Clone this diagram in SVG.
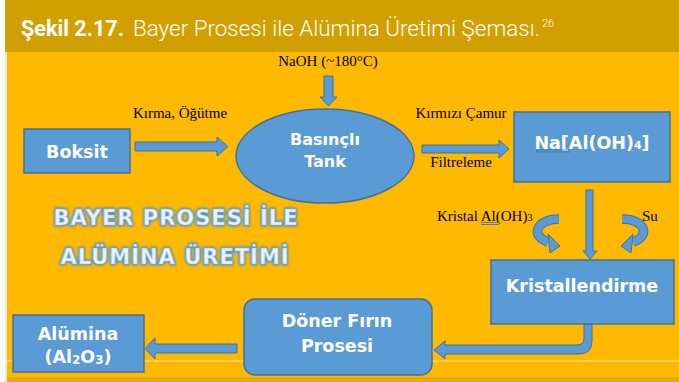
<svg xmlns="http://www.w3.org/2000/svg" width="679" height="382" viewBox="0 0 679 382">
<style>
.box{fill:#5b9bd5;stroke:#41719c;stroke-width:1.5}
.arr{fill:#5b9bd5;stroke:#41719c;stroke-width:1;stroke-linejoin:miter}
.bt{font-family:"DejaVu Sans",Verdana,sans-serif;font-weight:bold;fill:#ffffff;text-anchor:middle}
.lbl{font-family:"Liberation Serif","Times New Roman",serif;font-size:15px;fill:#000000}
.spell{stroke:#4472c4;stroke-width:0.9;fill:none}
.big{font-family:"DejaVu Sans",Verdana,sans-serif;font-weight:bold;font-size:21px;letter-spacing:1px;text-anchor:middle}
.curveo{fill:none;stroke:#41719c;stroke-width:9.5}
.curvei{fill:none;stroke:#5b9bd5;stroke-width:7.5}
</style>
<defs>
<filter id="glow" x="-10%" y="-50%" width="120%" height="200%">
<feGaussianBlur stdDeviation="1"/>
</filter>
</defs>
<rect x="0" y="0" width="679" height="382" fill="#ffffff"/>
<rect x="5" y="52" width="674" height="330" fill="#f3e9cf"/>
<rect x="7" y="52" width="672" height="325" fill="#ffb900"/>
<rect x="7" y="377" width="672" height="5" fill="#e6aa00"/>
<line x1="7" y1="361" x2="679" y2="361" stroke="#ffe7a8" stroke-width="1"/>
<g id="header">
<rect x="5" y="0" width="674" height="52" fill="#d29f00"/>
<text x="21" y="36" font-family="Roboto,'Open Sans',sans-serif" font-size="22" font-weight="bold" fill="#ffffff" textLength="103" lengthAdjust="spacingAndGlyphs">Şekil 2.17.</text>
<text x="133" y="36" font-family="Roboto,'Open Sans',sans-serif" font-size="22" font-weight="300" fill="#ffffff" textLength="407" lengthAdjust="spacingAndGlyphs">Bayer Prosesi ile Alümina Üretimi Şeması.</text>
<text x="542" y="27" font-family="Roboto,'Open Sans',sans-serif" font-size="11" font-weight="300" fill="#ffffff">26</text>
</g>
<g id="title">
<g filter="url(#glow)" fill="none" stroke="#4a8fd0" stroke-width="3" stroke-linejoin="round">
<text class="big" x="176" y="225">BAYER PROSESİ İLE</text>
<text class="big" x="175" y="264">ALÜMİNA ÜRETİMİ</text>
</g>
<g fill="#eaf2fb" stroke="#9cc2e8" stroke-width="0.6">
<text class="big" x="176" y="225">BAYER PROSESİ İLE</text>
<text class="big" x="175" y="264">ALÜMİNA ÜRETİMİ</text>
</g>
</g>
<g id="connectors">
<polygon class="arr" points="135,142 217,142 217,137 228,146.5 217,156 217,151 135,151"/>
<polygon class="arr" points="324,76 333,76 333,97 337,97 328.5,106 320,97 324,97"/>
<polygon class="arr" points="422,145 499,145 499,140 509,149 499,158 499,153 422,153"/>
<polygon class="arr" points="586,190 593,190 593,251 597,251 590,259 583,251 586,251"/>
<path class="arr" d="M584,324 L592,324 L592,341 Q592,354 579,354 L445,354 L445,359 L434,350 L445,341 L445,345 L577,345 Q584,345 584,338 Z"/>
<polygon class="arr" points="237,344 155,344 155,338 145,348.5 155,359 155,353 237,353"/>
<path class="curveo" d="M559,219 C536,219 530,236 548,242"/>
<path class="curvei" d="M559,219 C536,219 530,236 548,242"/>
<polygon class="arr" points="548,234 560,246 550,253"/>
<path class="curveo" d="M622,219 C645,219 651,236 633,242"/>
<path class="curvei" d="M622,219 C645,219 651,236 633,242"/>
<polygon class="arr" points="633,234 621,246 631,253"/>
</g>
<g id="labels">
<text class="lbl" x="180" y="118" text-anchor="middle">Kırma, Öğütme</text>
<text class="lbl" x="328" y="66" text-anchor="middle">NaOH (~180°C)</text>
<text class="lbl" x="461" y="118" text-anchor="middle">Kırmızı Çamur</text>
<text class="lbl" x="461" y="167" text-anchor="middle">Filtreleme</text>
<text class="lbl" x="437" y="221">Kristal Al(OH)<tspan font-size="10">3</tspan></text>
<line class="spell" x1="481" y1="222.5" x2="499" y2="222.5"/>
<line class="spell" x1="481" y1="224.5" x2="499" y2="224.5"/>
<text class="lbl" x="642" y="221">Su</text>
</g>
<g id="boksit">
<rect class="box" x="24" y="129" width="106" height="44"/>
<text class="bt" x="77" y="158" font-size="17.5">Boksit</text>
</g>
<g id="tank">
<ellipse class="box" cx="325" cy="156" rx="89" ry="47" stroke-width="1"/>
<text class="bt" x="325" y="145" font-size="16">Basınçlı</text>
<text class="bt" x="325" y="167" font-size="16">Tank</text>
</g>
<g id="naaloh">
<rect class="box" x="514" y="112" width="156" height="70"/>
<text class="bt" x="592" y="149" font-size="17.5">Na[Al(OH)<tspan font-size="11">4</tspan>]</text>
<line class="spell" x1="536" y1="150" x2="570" y2="150"/>
<line class="spell" x1="536" y1="152" x2="570" y2="152"/>
</g>
<g id="kristallendirme">
<rect class="box" x="491" y="260" width="183" height="64"/>
<text class="bt" x="582" y="292" font-size="17.5">Kristallendirme</text>
</g>
<g id="doner">
<rect class="box" x="244" y="299" width="188" height="76" rx="11"/>
<text class="bt" x="337" y="327" font-size="17.5">Döner Fırın</text>
<text class="bt" x="337" y="352" font-size="17.5">Prosesi</text>
</g>
<g id="alumina">
<rect class="box" x="13" y="315" width="131" height="57"/>
<text class="bt" x="78" y="340" font-size="17.5">Alümina</text>
<text class="bt" x="78" y="363" font-size="17.5">(Al<tspan font-size="12" dy="1">2</tspan><tspan dy="-1">O</tspan><tspan font-size="12" dy="1">3</tspan><tspan dy="-1">)</tspan></text>
</g>
</svg>
